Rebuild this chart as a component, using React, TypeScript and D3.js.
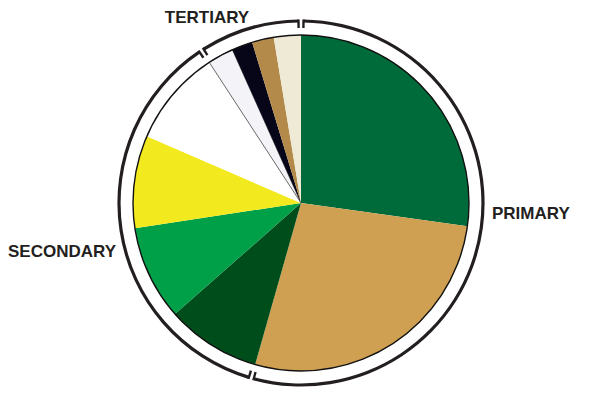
import React from "react";
import * as d3 from "d3";

// slice values (share of the whole, in percent), clockwise from 12 o'clock
const sliceNames = ["p1", "p2", "s1", "s2", "s3", "s4", "t1", "t2", "t3", "t4"];
const sliceValues = [27.2, 27.2, 9.1, 9.1, 8.9, 9.3, 2.5, 2.0, 2.1, 2.6];
const sliceColors = ["#006b3a", "#d0a052", "#004d1c", "#00a048", "#f2ea1e", "#ffffff", "#f3f3f8", "#060618", "#b38a4a", "#eeead6"];
const sliceGroups = ["PRIMARY", "PRIMARY", "SECONDARY", "SECONDARY", "SECONDARY", "SECONDARY", "TERTIARY", "TERTIARY", "TERTIARY", "TERTIARY"];

const groupNames = ["PRIMARY", "SECONDARY", "TERTIARY"];

const W = 600, H = 400;
const cx = 301, cy = 203;
const R = 168;
const bracketR = 182;
const ink = "#231f20";

const App = () => {
  const ref = React.useRef<SVGSVGElement>(null);

  React.useEffect(() => {
    const svg = d3.select(ref.current);
    svg.selectAll("*").remove();
    const g = svg.append("g").attr("transform", `translate(${cx},${cy})`);

    const data = sliceNames.map((name, i) => ({ name, value: sliceValues[i], color: sliceColors[i], group: sliceGroups[i] }));
    const pie = d3.pie<any>().value(d => d.value).sort(null);
    const arcs = pie(data);
    const arc = d3.arc<any>().innerRadius(0).outerRadius(R);

    g.selectAll("path.slice")
      .data(arcs)
      .join("path")
      .attr("class", "slice")
      .attr("d", arc)
      .attr("fill", d => d.data.color)
      .attr("stroke", d => d.data.name === "t1" ? "#444" : "none")
      .attr("stroke-width", 0.8);

    // thin outline of the pie
    g.append("circle").attr("r", R).attr("fill", "none").attr("stroke", "#111").attr("stroke-width", 1.4);

    // group brackets
    const gap = 2.5 / bracketR;
    const ring = d3.arc<any>().innerRadius(bracketR - 1.6).outerRadius(bracketR + 1.6);
    groupNames.forEach(name => {
      const members = arcs.filter(a => a.data.group === name);
      const a0 = d3.min(members, m => m.startAngle)! + gap;
      const a1 = d3.max(members, m => m.endAngle)! - gap;
      g.append("path")
        .attr("d", ring({ startAngle: a0, endAngle: a1 }))
        .attr("fill", ink);
      [a0, a1].forEach(a => {
        const s = Math.sin(a), c = -Math.cos(a);
        g.append("line")
          .attr("x1", s * (bracketR + 1.6)).attr("y1", c * (bracketR + 1.6))
          .attr("x2", s * (bracketR - 7)).attr("y2", c * (bracketR - 7))
          .attr("stroke", ink).attr("stroke-width", 2.4);
      });
    });

    const label = (text, x, y, anchor) =>
      svg.append("text")
        .attr("x", x).attr("y", y)
        .attr("text-anchor", anchor)
        .attr("font-family", "Liberation Sans, Arial, sans-serif")
        .attr("font-weight", "bold")
        .attr("font-size", 17)
        .attr("fill", ink)
        .text(text);

    label("TERTIARY", 207, 23, "middle");
    label("PRIMARY", 492, 219, "start");
    label("SECONDARY", 116, 257, "end");
  }, []);

  return <svg ref={ref} width={W} height={H} style={{ position: "absolute", left: 0, top: 0, background: "#fff" }} />;
};

export default App;
